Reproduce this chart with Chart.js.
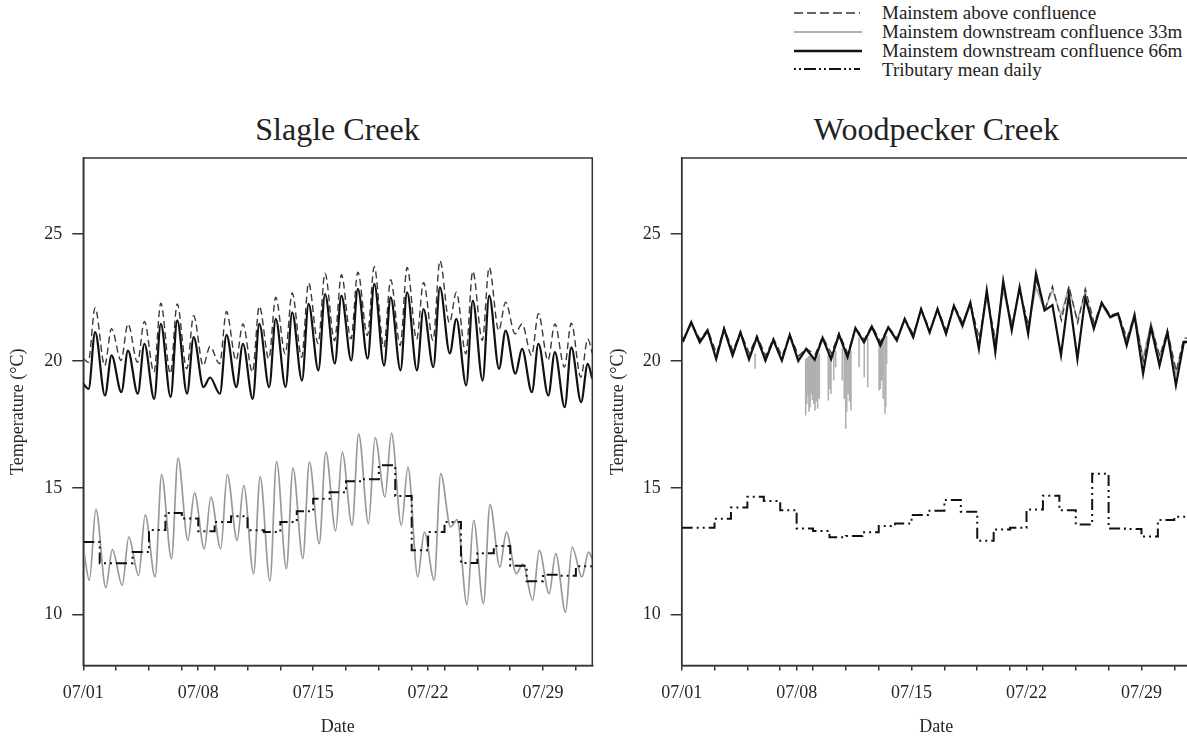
<!DOCTYPE html>
<html lang="en">
<head>
  <meta charset="UTF-8">
  <title>Slagle Creek / Woodpecker Creek temperature</title>
  <script src="https://cdn.jsdelivr.net/npm/chart.js"></script>
  <style>
    html, body { margin: 0; padding: 0; background: #fff; overflow: hidden; width: 1187px; height: 738px; }
    body { position: relative; font-family: 'Liberation Serif', 'Times New Roman', serif; color: #222; }
    canvas { position: absolute; top: 100px; }
    #slagle { left: 0; }
    #woodpecker { left: 600px; }
    .title { position: absolute; top: 113px; width: 509px; text-align: center; font-size: 32px; line-height: 32px; white-space: nowrap; }
    .leg { position: absolute; left: 794px; height: 19px; font-size: 19px; line-height: 19px; white-space: nowrap; }
    .leg svg { position: absolute; left: 0; top: 0; }
    .leg span { position: absolute; left: 88px; top: 0; }
  </style>
</head>
<body>

<!-- legend -->
<div class="leg" style="top:3px">
  <svg width="66" height="19"><line x1="0" y1="10" x2="66" y2="10" stroke="#333" stroke-width="1.3" stroke-dasharray="9 4"/></svg>
  <span>Mainstem above confluence</span>
</div>
<div class="leg" style="top:22px">
  <svg width="68" height="19"><line x1="0" y1="10" x2="68" y2="10" stroke="#999" stroke-width="1.5"/></svg>
  <span>Mainstem downstream confluence 33m</span>
</div>
<div class="leg" style="top:41px">
  <svg width="68" height="19"><line x1="0" y1="10" x2="68" y2="10" stroke="#111" stroke-width="2.5"/></svg>
  <span>Mainstem downstream confluence 66m</span>
</div>
<div class="leg" style="top:60px">
  <svg width="66" height="19"><line x1="0" y1="9" x2="66" y2="9" stroke="#111" stroke-width="2" stroke-dasharray="2 3 2 3 12 3"/></svg>
  <span>Tributary mean daily</span>
</div>

<div class="title" style="left:83px">Slagle Creek</div>
<div class="title" style="left:682px">Woodpecker Creek</div>

<canvas id="slagle" width="600" height="638"></canvas>
<canvas id="woodpecker" width="600" height="638"></canvas>

<script>
  // --- axis ticks ---
  const yTickValues = [10, 15, 20, 25];
  const dateLabels = ['07/01', '07/08', '07/15', '07/22', '07/29'];
  const dateLabelDays = [0, 7, 14, 21, 28];
  const tickDays = [0, 2, 4, 6, 7, 8, 10, 12, 14, 16, 18, 20, 21, 22, 24, 26, 28, 30];

  // --- Slagle Creek: daily minimum / maximum of each logger (07/01 .. 07/31) ---
  const slagleAboveLow  = [19.95, 19.82, 20.02, 19.95, 19.56, 19.5, 19.69, 19.82, 19.89, 20.02, 19.56, 20.09, 20.28, 20.15, 20.68, 20.8, 20.87, 21.0, 20.54, 20.61, 20.85, 20.81, 21.5, 20.28, 20.81, 21.2, 21.07, 20.22, 20.02, 19.76, 19.36];
  const slagleAboveHigh = [22.1, 21.27, 21.46, 21.56, 22.28, 22.25, 21.79, 20.57, 21.95, 21.46, 22.16, 22.51, 22.68, 23.08, 23.46, 23.4, 23.5, 23.72, 23.2, 23.69, 23.1, 23.96, 22.71, 23.54, 23.69, 22.32, 21.46, 21.86, 21.46, 21.49, 20.87];
  const slagle66Low  = [18.9, 18.64, 18.77, 18.71, 18.51, 18.58, 18.71, 18.97, 18.71, 18.97, 18.51, 18.97, 18.97, 19.23, 19.63, 19.9, 20.02, 20.09, 19.82, 19.63, 19.63, 19.76, 20.3, 19.04, 19.23, 19.69, 19.5, 18.77, 18.64, 18.18, 18.38];
  const slagle66High = [21.14, 20.22, 20.41, 20.68, 21.46, 21.6, 20.94, 19.35, 21.03, 20.68, 21.46, 21.66, 21.92, 22.25, 22.64, 22.58, 22.84, 23.04, 22.51, 22.71, 22.05, 22.9, 21.66, 22.38, 22.58, 21.2, 20.48, 20.68, 20.35, 20.54, 19.89];
  const slagle33Low  = [11.36, 11.07, 11.16, 11.55, 11.49, 12.21, 12.93, 12.6, 12.6, 12.93, 11.62, 11.33, 11.82, 12.21, 12.8, 13.3, 13.52, 13.59, 14.64, 13.52, 11.49, 11.36, 13.46, 10.4, 10.44, 11.88, 11.62, 10.57, 10.83, 10.1, 11.49];
  const slagle33High = [14.15, 12.57, 13.06, 13.94, 15.52, 16.17, 14.8, 14.64, 15.52, 15.1, 15.43, 16.04, 15.78, 16.02, 16.41, 16.41, 17.13, 16.98, 17.16, 15.82, 13.26, 15.56, 13.75, 13.72, 14.35, 13.26, 12.0, 12.54, 12.41, 12.67, 12.47];
  const slagleTrib   = [12.87, 12.03, 12.03, 12.47, 13.34, 14.01, 13.79, 13.29, 13.66, 13.88, 13.33, 13.26, 13.66, 14.08, 14.57, 14.83, 15.26, 15.34, 15.89, 14.68, 12.54, 13.26, 13.66, 12.04, 12.42, 12.71, 11.93, 11.32, 11.58, 11.54, 11.91];
  // first and last readings of the record
  const slagleAboveEnds = [20.1, 20.3];
  const slagle66Ends = [19.1, 19.3];
  const slagle33Ends = [12.67, 12.2];

  // --- Woodpecker Creek ---
  const woodAboveLow  = [20.9, 20.85, 20.3, 20.4, 20.3, 20.2, 20.2, 20.2, 20.25, 20.3, 20.3, 20.85, 20.75, 20.9, 21.05, 21.2, 21.2, 21.5, 20.9, 20.8, 21.4, 21.4, 22.0, 21.6, 21.5, 21.5, 21.8, 20.9, 20.0, 20.2, 19.6];
  const woodAboveHigh = [21.5, 21.25, 21.3, 21.15, 21.0, 20.9, 21.05, 20.5, 20.95, 21.1, 21.3, 21.4, 21.35, 21.65, 22.05, 22.05, 22.2, 22.3, 22.6, 23.0, 22.85, 23.2, 22.95, 22.95, 22.85, 22.3, 21.9, 21.8, 21.4, 21.2, 20.9];
  const wood66Low  = [20.8, 20.74, 20.08, 20.22, 20.08, 20.02, 20.02, 20.02, 20.05, 20.08, 20.15, 20.74, 20.61, 20.81, 20.94, 21.13, 21.07, 21.4, 20.48, 20.35, 21.2, 21.07, 21.99, 20.22, 20.08, 21.27, 21.73, 20.61, 19.5, 19.82, 19.04];
  const wood66High = [21.53, 21.2, 21.27, 21.13, 20.94, 20.83, 21.03, 20.48, 20.91, 21.04, 21.3, 21.36, 21.33, 21.66, 22.05, 22.05, 22.18, 22.3, 22.78, 23.15, 22.91, 23.45, 22.2, 22.6, 22.5, 22.3, 21.86, 21.79, 21.33, 21.13, 20.74];
  const wood33Low  = [20.8, 20.7, 20.1, 20.2, 20.0, 20.0, 20.0, 19.95, 20.0, 20.05, 20.1, 20.7, 20.6, 20.8, 20.9, 21.1, 21.05, 21.3, 20.6, 20.7, 21.4, 21.3, 22.0, 21.8, 21.6, 21.4, 21.7, 20.8, 20.1, 20.1, 19.5];
  const wood33High = [21.45, 21.15, 21.2, 21.1, 20.9, 20.8, 21.0, 20.45, 20.9, 21.0, 21.25, 21.3, 21.3, 21.6, 22.0, 22.0, 22.15, 22.25, 22.5, 22.8, 22.8, 22.9, 22.8, 22.9, 22.7, 22.2, 21.85, 21.9, 21.5, 21.2, 20.8];
  const woodTrib   = [13.43, 13.43, 13.78, 14.23, 14.65, 14.48, 14.12, 13.4, 13.3, 13.05, 13.1, 13.25, 13.5, 13.6, 13.93, 14.1, 14.52, 14.06, 12.92, 13.36, 13.43, 14.15, 14.69, 14.12, 13.56, 15.56, 13.4, 13.38, 13.08, 13.73, 13.86];
  const woodAboveEnds = [20.95, 20.9];
  const wood66Ends = [20.87, 20.74];
  const wood33Ends = [20.85, 20.8];
  // short drops of the 33m logger (day, reading before drop, lowest reading)
  const woodSpikeDay = [4.47, 7.55, 7.62, 7.67, 7.75, 7.82, 7.9, 7.96, 8.05, 8.12, 8.2, 8.28, 8.38, 8.93, 9.0, 9.09, 9.26, 9.38, 9.78, 9.9, 9.99, 10.05, 10.15, 10.22, 10.31, 10.8, 11.12, 11.33, 12.02, 12.1, 12.18, 12.27, 12.38, 12.43, 12.48];
  const woodSpikeTop = [20.3, 20.1, 20.1, 20.15, 20.2, 20.2, 20.2, 20.15, 20.1, 20.1, 20.15, 20.2, 20.3, 20.3, 20.3, 20.25, 20.3, 20.4, 20.5, 20.4, 20.3, 20.3, 20.3, 20.35, 20.4, 20.9, 20.8, 20.9, 20.7, 20.8, 20.9, 20.95, 21.0, 21.0, 21.0];
  const woodSpikeLow = [19.69, 17.85, 18.3, 18.64, 18.0, 18.18, 18.7, 18.45, 18.3, 18.05, 18.4, 18.12, 18.51, 18.44, 18.9, 18.7, 19.23, 19.75, 19.23, 18.5, 17.33, 18.0, 18.7, 18.4, 18.05, 19.75, 19.36, 18.97, 18.84, 18.9, 19.23, 18.5, 17.92, 18.2, 19.89];

  const SERIF = "'Liberation Serif', 'Times New Roman', serif";
  const INK = '#262626';

  // daily cycle: minimum in the morning, maximum in the afternoon
  function dailyCycle(lows, highs, tLow, tHigh, ends) {
    const pts = [{ x: 0, y: ends[0] }];
    lows.forEach((v, d) => {
      pts.push({ x: d + tLow, y: v });
      pts.push({ x: d + tHigh, y: highs[d] });
    });
    pts.push({ x: lows.length, y: ends[1] });
    return pts;
  }

  function dailySteps(vals) {
    const pts = vals.map((v, d) => ({ x: d, y: v }));
    pts.push({ x: vals.length, y: vals[vals.length - 1] });
    return pts;
  }

  function spikes(days, tops, lows) {
    const pts = [];
    days.forEach((t, i) => {
      pts.push({ x: t, y: tops[i] }, { x: t, y: lows[i] }, { x: t, y: null });
    });
    return pts;
  }

  // draws the box round the plot area
  const frame = {
    id: 'frame',
    afterDatasetsDraw(chart) {
      const { ctx, chartArea: a } = chart;
      ctx.save();
      ctx.strokeStyle = '#333';
      ctx.lineWidth = 1.5;
      ctx.strokeRect(a.left, a.top, a.right - a.left, a.bottom - a.top);
      ctx.restore();
    }
  };

  function panelOptions(yWidth, rightPad) {
    return {
      responsive: false,
      animation: false,
      events: [],
      layout: { padding: { top: 58, right: rightPad, left: 0, bottom: 0 } },
      plugins: { legend: { display: false }, tooltip: { enabled: false } },
      elements: { point: { radius: 0 } },
      scales: {
        x: {
          type: 'linear', min: 0, max: 31,
          afterFit(s) { s.height = 72.5; },
          afterBuildTicks(s) { s.ticks = tickDays.map(v => ({ value: v })); },
          ticks: {
            autoSkip: false, maxRotation: 0, padding: 12, color: INK,
            font: { family: SERIF, size: 18 },
            callback(v) {
              const i = dateLabelDays.indexOf(v);
              return i >= 0 ? dateLabels[i] : '';
            }
          },
          grid: { drawOnChartArea: false, tickLength: 5, color: '#333', lineWidth: 1.5 },
          border: { display: true, color: '#333', width: 1.5 },
          title: { display: true, text: 'Date', color: INK, font: { family: SERIF, size: 18 }, padding: { top: 0, bottom: 0 } }
        },
        y: {
          min: 8, max: 28,
          afterFit(s) { s.width = yWidth; },
          afterBuildTicks(s) { s.ticks = yTickValues.map(v => ({ value: v })); },
          ticks: { padding: 10, color: INK, font: { family: SERIF, size: 18 } },
          grid: { drawOnChartArea: false, tickLength: 11, color: '#333', lineWidth: 1.5 },
          border: { display: true, color: '#333', width: 1.5 },
          title: { display: true, text: 'Temperature (°C)', color: INK, font: { family: SERIF, size: 18 }, padding: { top: 7, bottom: 0 } }
        }
      }
    };
  }

  new Chart(document.getElementById('slagle'), {
    type: 'line',
    data: {
      datasets: [
        {
          label: 'Tributary mean daily',
          data: dailySteps(slagleTrib),
          stepped: 'before',
          borderColor: '#111', borderWidth: 2,
          borderDash: [11, 4, 2, 4, 2, 4],
          order: 0
        },
        {
          label: 'Mainstem downstream confluence 66m',
          data: dailyCycle(slagle66Low, slagle66High, 0.32, 0.72, slagle66Ends),
          cubicInterpolationMode: 'monotone',
          borderColor: '#111', borderWidth: 2.2,
          order: 1
        },
        {
          label: 'Mainstem above confluence',
          data: dailyCycle(slagleAboveLow, slagleAboveHigh, 0.3, 0.72, slagleAboveEnds),
          cubicInterpolationMode: 'monotone',
          borderColor: '#3a3a3a', borderWidth: 1.4,
          borderDash: [7, 4],
          order: 2
        },
        {
          label: 'Mainstem downstream confluence 33m',
          data: dailyCycle(slagle33Low, slagle33High, 0.37, 0.77, slagle33Ends),
          cubicInterpolationMode: 'monotone',
          borderColor: '#999', borderWidth: 1.7,
          order: 3
        }
      ]
    },
    options: panelOptions(83.3, 7.7),
    plugins: [frame]
  });

  new Chart(document.getElementById('woodpecker'), {
    type: 'line',
    data: {
      datasets: [
        {
          label: 'Tributary mean daily',
          data: dailySteps(woodTrib),
          stepped: 'before',
          borderColor: '#111', borderWidth: 2,
          borderDash: [11, 4, 2, 4, 2, 4],
          order: 0
        },
        {
          label: 'Mainstem downstream confluence 66m',
          data: dailyCycle(wood66Low, wood66High, 0.1, 0.58, wood66Ends),
          borderColor: '#111', borderWidth: 2.2,
          order: 1
        },
        {
          label: 'Mainstem above confluence',
          data: dailyCycle(woodAboveLow, woodAboveHigh, 0.12, 0.58, woodAboveEnds),
          borderColor: '#3a3a3a', borderWidth: 1.3,
          borderDash: [7, 4],
          order: 2
        },
        {
          label: 'Mainstem downstream confluence 33m',
          data: dailyCycle(wood33Low, wood33High, 0.1, 0.58, wood33Ends),
          borderColor: '#aaa', borderWidth: 1.6,
          order: 3
        },
        {
          label: 'Mainstem downstream confluence 33m (drops)',
          data: spikes(woodSpikeDay, woodSpikeTop, woodSpikeLow),
          spanGaps: false,
          borderColor: '#b0b0b0', borderWidth: 1.6,
          order: 4
        }
      ]
    },
    options: panelOptions(81.7, 9.3),
    plugins: [frame]
  });
</script>

</body>
</html>
